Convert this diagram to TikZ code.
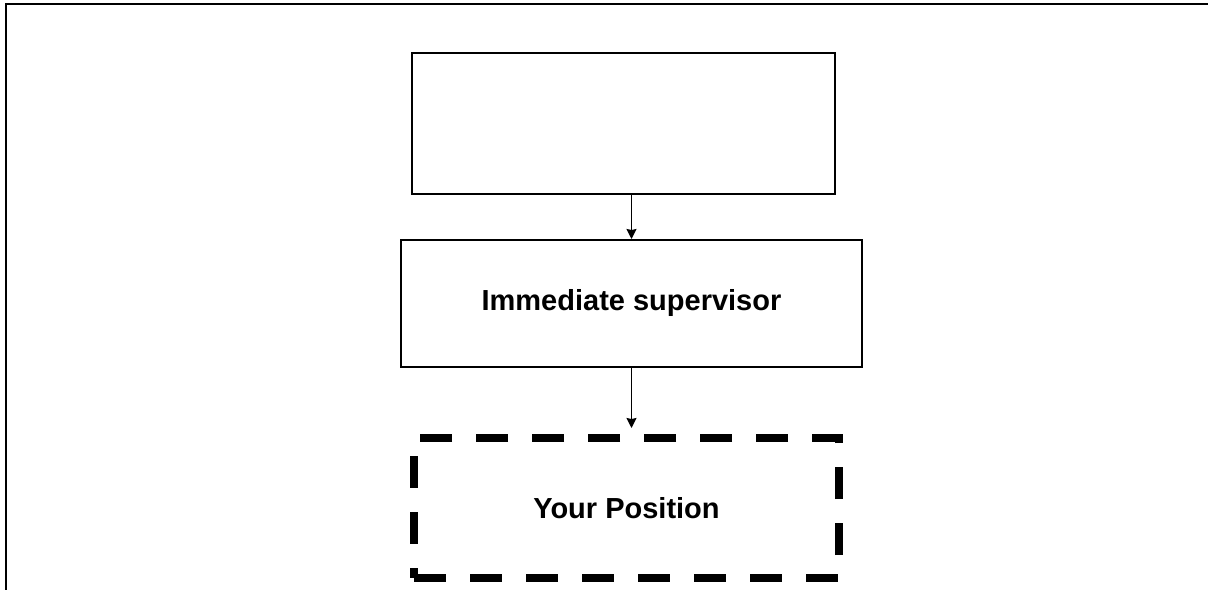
\documentclass[tikz,border=0pt]{standalone}
\usepackage{fontspec}
\setmainfont{Liberation Sans}
\usetikzlibrary{arrows.meta,positioning}

\begin{document}
\begin{tikzpicture}[x=1pt,y=1pt,font=\fontsize{29}{34}\selectfont\bfseries,b/.style={draw,line width=2pt,align=center,inner sep=0pt},d/.style={draw,line width=8pt,dash pattern=on 32pt off 24pt,inner sep=0pt},a/.style={-{Stealth[length=10pt,width=10pt,inset=1pt]},line width=1.5pt}]
\useasboundingbox (0,0) rectangle (1208,590);
\draw[line width=2pt] (1208,586)--(6,586)--(6,0);
\node[b,minimum width=423pt,minimum height=141pt] (top) at (623.5,466.5) {};
\node[b,minimum width=461pt,minimum height=127pt] (sup) at (631.5,286.5) {Immediate supervisor};
\node[d,minimum width=425pt,minimum height=140pt] (pos) at (626.5,82) {Your Position};
\draw[a] (sup.north |- top.south)--(sup.north);\draw[a,shorten >=6pt] (sup.south)--(sup.south |- pos.north);
\end{tikzpicture}
\end{document}
